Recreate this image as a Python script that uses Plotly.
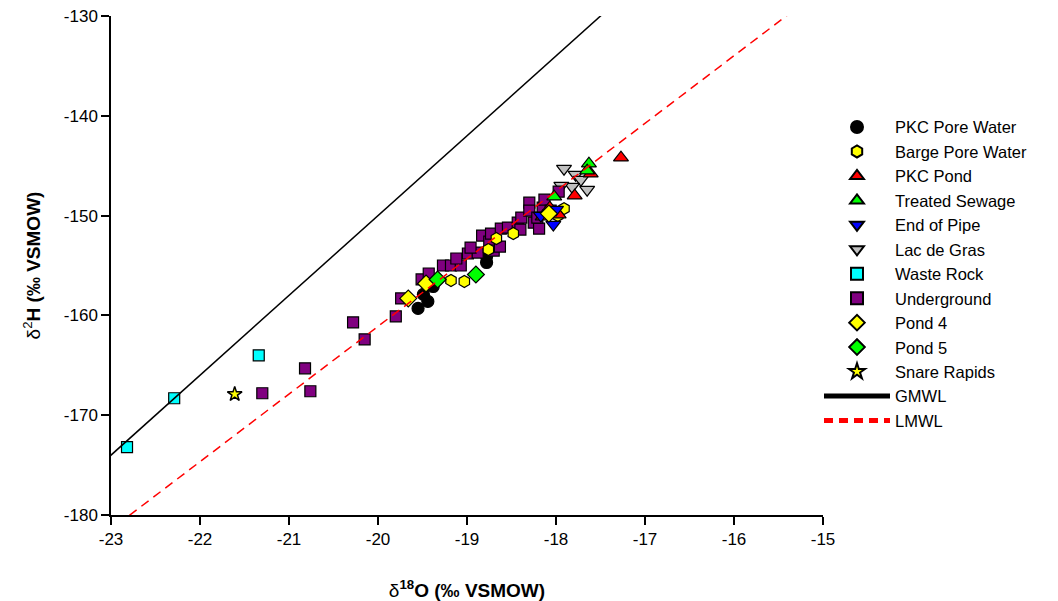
import plotly.graph_objects as go

# ---------------- data ----------------
pkc_pore_x = [-19.55, -19.44, -19.49, -19.38, -18.78, -18.78]
pkc_pore_y = [-159.3, -158.6, -157.9, -157.1, -154.7, -154.1]

barge_x = [-19.18, -19.03, -18.67, -18.48, -17.98, -17.91, -18.08, -18.76]
barge_y = [-156.5, -156.6, -152.3, -151.8, -150.0, -149.3, -149.8, -153.4]

pkc_pond_x = [-17.27, -17.61, -17.79, -18.07, -17.97, -18.15]
pkc_pond_y = [-144.2, -145.8, -148.0, -149.2, -149.9, -150.1]

sewage_x = [-17.63, -17.65, -18.02]
sewage_y = [-144.8, -145.5, -148.1]

pipe_x = [-18.00, -18.03, -18.17]
pipe_y = [-149.4, -150.9, -150.0]

lac_x = [-17.91, -17.78, -17.72, -17.82, -17.65, -17.94]
lac_y = [-145.3, -145.9, -146.4, -147.1, -147.4, -147.0]

waste_x = [-22.82, -22.29, -21.34]
waste_y = [-173.2, -168.3, -164.0]

under_x = [-21.30, -20.82, -20.76, -20.28, -20.15, -19.80, -19.74, -19.51, -19.27,
           -19.18, -19.07, -19.12, -18.99, -18.88, -18.83, -18.75, -18.70, -18.63,
           -18.73, -18.62, -18.54, -18.43, -18.39, -18.40, -18.30, -18.30, -18.25,
           -18.19, -18.15, -18.13, -18.21, -17.97, -18.06, -18.96, -19.43]
under_y = [-167.8, -165.3, -167.6, -160.7, -162.4, -160.1, -158.3, -156.4, -155.0,
           -155.0, -155.0, -154.3, -153.8, -153.7, -152.0, -152.6, -153.5, -153.1,
           -151.8, -151.3, -151.2, -150.7, -150.2, -151.4, -148.7, -149.5, -150.7,
           -151.3, -149.2, -148.4, -150.2, -147.6, -149.5, -153.2, -155.8]

pond4_x = [-19.66, -19.46, -18.08]
pond4_y = [-158.3, -156.8, -149.8]

pond5_x = [-19.33, -18.90]
pond5_y = [-156.4, -155.9]

snare_x = [-21.61]
snare_y = [-167.9]

# meteoric water lines: dH = slope * dO + intercept
gmwl_slope, gmwl_intercept = 8.0, 10.0
lmwl_slope, lmwl_intercept = 6.78, -25.5
line_x = [-24.0, -14.0]

x_ticks = [-23, -22, -21, -20, -19, -18, -17, -16, -15]
y_ticks = [-180, -170, -160, -150, -140, -130]

# ---------------- figure ----------------
FONT = "Liberation Sans, Arial, sans-serif"
fig = go.Figure()

def pts(name, xs, ys, symbol, color, size, rank, lw=1.2):
    fig.add_trace(go.Scatter(
        x=xs, y=ys, mode="markers", name=name, legendrank=rank,
        marker=dict(symbol=symbol, color=color, size=size,
                    line=dict(color="black", width=lw)),
        cliponaxis=False))

# drawing order (legend order set by legendrank)
pts("PKC Pore Water", pkc_pore_x, pkc_pore_y, "circle", "#000000", 12, 1)
pts("Lac de Gras", lac_x, lac_y, "triangle-down", "#C0C0C0", 13, 6)
pts("Underground", under_x, under_y, "square", "#800080", 11, 8)
pts("Barge Pore Water", barge_x, barge_y, "hexagon", "#FFFF00", 12, 2)
pts("PKC Pond", pkc_pond_x, pkc_pond_y, "triangle-up", "#FF0000", 13, 3)
pts("Treated Sewage", sewage_x, sewage_y, "triangle-up", "#00FF00", 13, 4)
pts("End of Pipe", pipe_x, pipe_y, "triangle-down", "#0000FF", 13, 5)
pts("Waste Rock", waste_x, waste_y, "square", "#00FFFF", 11, 7)
pts("Pond 4", pond4_x, pond4_y, "diamond", "#FFFF00", 13, 9)
pts("Pond 5", pond5_x, pond5_y, "diamond", "#00FF00", 13, 10)
pts("Snare Rapids", snare_x, snare_y, "star", "#FFFF00", 11, 11, lw=1.5)

fig.add_trace(go.Scatter(
    x=line_x, y=[gmwl_slope * v + gmwl_intercept for v in line_x],
    mode="lines", name="GMWL", legendrank=12,
    line=dict(color="black", width=1.5)))
fig.add_trace(go.Scatter(
    x=line_x, y=[lmwl_slope * v + lmwl_intercept for v in line_x],
    mode="lines", name="LMWL", legendrank=13,
    line=dict(color="#FF0000", width=1.5, dash="9px,6px")))

axis_common = dict(showgrid=False, zeroline=False, showline=True,
                   linecolor="black", linewidth=1.5, ticks="outside",
                   ticklen=8, tickwidth=1.5, tickcolor="black",
                   tickfont=dict(family=FONT, size=17, color="black"),
                   ticklabeloverflow="allow",
                   mirror=False, automargin=False)

fig.update_layout(
    width=1058, height=601,
    margin=dict(l=103, r=243, t=8, b=94, autoexpand=False),
    paper_bgcolor="white", plot_bgcolor="white",
    font=dict(family=FONT, color="black"),
    showlegend=True,
    legend=dict(x=(818 - 110) / 712, y=0.812, xanchor="left", yanchor="top",
                font=dict(family=FONT, size=16.5, color="black"),
                bgcolor="rgba(0,0,0,0)", tracegroupgap=0,
                itemsizing="constant", itemwidth=66),
    xaxis=dict(range=[-23, -15], tickvals=x_ticks,
               ticktext=[str(v) for v in x_ticks],
               title=dict(text="δ<sup><b>18</b></sup><b>O (‰ VSMOW)</b>",
                          font=dict(family=FONT, size=19, color="black"),
                          standoff=36),
               **axis_common),
    yaxis=dict(range=[-180, -130], tickvals=y_ticks,
               ticktext=[str(v) for v in y_ticks],
               title=dict(text="δ<sup>2</sup><b>H (‰ VSMOW)</b>",
                          font=dict(family=FONT, size=19, color="black"),
                          standoff=18),
               **axis_common),
)

fig.write_html("out.html")
